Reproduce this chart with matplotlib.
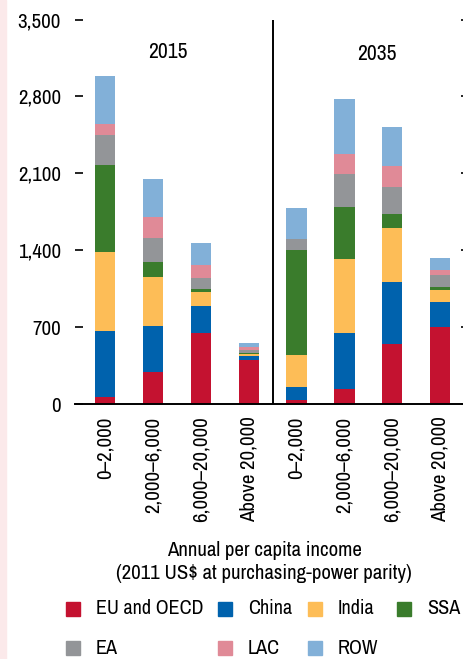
import numpy as np
import matplotlib
matplotlib.use('Agg')
import matplotlib.pyplot as plt
from matplotlib.patches import Rectangle

plt.rcParams['font.family'] = ['Archivo Narrow', 'Liberation Sans', 'DejaVu Sans']

categories = ['0\u20132,000', '2,000\u20136,000', '6,000\u201320,000', 'Above 20,000',
              '0\u20132,000', '2,000\u20136,000', '6,000\u201320,000', 'Above 20,000']
years = ['2015', '2035']

regions = ['EU and OECD', 'China', 'India', 'SSA', 'EA', 'LAC', 'ROW']
colors = ['#C41230', '#0062AD', '#FDBD57', '#3A7C2C', '#939598', '#E08A97', '#82B0D8']

eu_oecd = [61, 288, 646, 401, 38, 137, 549, 701]
china = [603, 422, 246, 36, 115, 509, 561, 227]
india = [719, 446, 127, 18, 292, 674, 492, 110]
ssa = [792, 137, 28, 6, 957, 473, 127, 27]
ea = [274, 218, 100, 30, 100, 301, 246, 109]
lac = [100, 188, 115, 25, 0, 182, 191, 49]
row = [437, 349, 203, 36, 282, 500, 356, 106]
series = [eu_oecd, china, india, ssa, ea, lac, row]

W, H = 464, 659
fig = plt.figure(figsize=(W / 100, H / 100), dpi=100)
fig.patches.append(Rectangle((0, 0), 6 / W, 1, transform=fig.transFigure,
                             color='#FBE9EA', zorder=0))

ax = fig.add_axes([75 / W, (H - 404) / H, (469 - 75) / W, (404 - 19.5) / H])
x = np.arange(len(categories))
bottom = np.zeros(len(categories))
for vals, c in zip(series, colors):
    ax.bar(x, vals, width=0.42, bottom=bottom, color=c, linewidth=0, zorder=2)
    bottom += np.array(vals)

ax.set_xlim(-0.625, 7.6)
ax.set_ylim(0, 3500)
ax.set_yticks([0, 700, 1400, 2100, 2800, 3500])
ax.set_yticklabels(['0', '700', '1,400', '2,100', '2,800', '3,500'], fontsize=15)
ax.set_xticks(x)
ax.set_xticklabels(categories, rotation=90, fontsize=15, va='top')
ax.tick_params(axis='y', direction='in', length=6, width=1.2, pad=10,
               left=True, right=True, labelright=False)
ax.tick_params(axis='x', direction='in', length=5, width=1.2, pad=9)
for s in ['left', 'right', 'top']:
    ax.spines[s].set_visible(False)
ax.spines['bottom'].set_linewidth(1.4)
ax.axvline(3.5, color='black', linewidth=1.4, zorder=3)

ax.text(1.31, 3200, years[0], ha='center', va='center', fontsize=15.5)
ax.text(5.67, 3185, years[1], ha='center', va='center', fontsize=15.5)

fig.text(264 / W, 1 - 562 / H,
         'Annual per capita income\n(2011 US$ at purchasing-power parity)',
         ha='center', va='center', fontsize=15, linespacing=1.3)

# legend laid out by hand: 4 on first row, 3 on second
leg_pos = [(66, 609), (218, 609), (308, 609), (397, 609),
           (66, 648), (218, 648), (308, 648)]
for (px, py), name, c in zip(leg_pos, regions, colors):
    fig.patches.append(Rectangle((px / W, 1 - (py + 7) / H), 14 / W, 14 / H,
                                 transform=fig.transFigure, color=c))
    fig.text((px + 30) / W, 1 - py / H, name, ha='left', va='center', fontsize=14.5)

fig.savefig('out.png', dpi=100)
